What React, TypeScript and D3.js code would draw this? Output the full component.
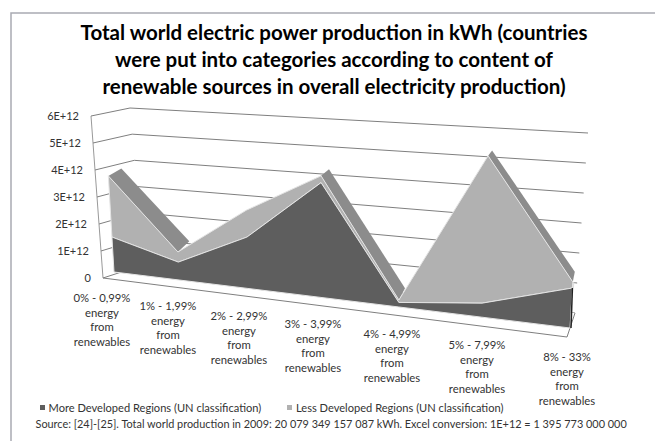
import React from "react";
import * as d3 from "d3";

const titleLines = [
  "Total world electric power production in kWh (countries",
  "were put into categories according to content of",
  "renewable sources in overall electricity production)",
];
const categories = ["0% - 0,99%", "1% - 1,99%", "2% - 2,99%", "3% - 3,99%", "4% - 4,99%", "5% - 7,99%", "8% - 33%"];
const categorySuffix = ["energy", "from", "renewables"];
const moreDeveloped = [1.28, 0.64, 1.79, 3.9, 0.15, 0.45, 1.25];
const lessDeveloped = [2.24, 0.36, 0.94, 0.23, 0.08, 4.74, 0.19];
const yTicks = [0, 1, 2, 3, 4, 5, 6];
const yTickLabels = ["0", "1E+12", "2E+12", "3E+12", "4E+12", "5E+12", "6E+12"];
const legendLabels = ["More Developed Regions (UN classification)", "Less Developed Regions (UN classification)"];
const sourceNote = "Source: [24]-[25]. Total world production in 2009: 20 079 349 157 087 kWh. Excel conversion: 1E+12 = 1 395 773 000 000";

const FONT = "Lato, Carlito, 'Open Sans', sans-serif";
const DARK = "#5e5e5e";
const LIGHT = "#b1b1b1";
const BAND = "#8c8c8c";
const EDGE = "#e4e4e4";
const GRID = "#7f7f7f";

// perspective along the category axis
const persp = (i: number) => 1 / (35.6 - i);
const xBase = d3.scaleLinear().domain([persp(0), persp(6)]).range([114, 570]);
const yBase = d3.scaleLinear().domain([114, 570]).range([272, 328]);
const unit = d3.scaleLinear().domain([persp(0), persp(6)]).range([27.3, 32]);
const spread = d3.scaleLinear().domain([114, 320]).range([-1.6, 0]);

const project = (i: number, v: number): [number, number] => {
  const x0 = xBase(persp(i));
  return [x0 + spread(x0) * v, yBase(x0) - unit(persp(i)) * v];
};
const backShift = (p: [number, number], v: number): [number, number] => [
  p[0] + 13 - ((p[0] - 108) * 11) / 465,
  p[1] - (12 - 1.3 * v),
];

// wall scales
const wallX = d3.scaleLinear().domain([0, 6]).range([103, 91]);
const wallY = d3.scaleLinear().domain([0, 6]).range([278, 116]);
const backLX = d3.scaleLinear().domain([0, 6]).range([143, 130]);
const backLY = d3.scaleLinear().domain([0, 6]).range([265, 108]);
const backRX = d3.scaleLinear().domain([0, 6]).range([575, 588]);
const backRY = d3.scaleLinear().domain([0, 6]).range([313, 133]);

const totals = moreDeveloped.map((d, i) => d + lessDeveloped[i]);
const idx = d3.range(categories.length);
const poly = d3.line<[number, number]>().x((d) => d[0]).y((d) => d[1]);

const darkFace = [...idx.map((i) => project(i, moreDeveloped[i])), ...idx.slice().reverse().map((i) => project(i, 0))];
const lightFace = [...idx.map((i) => project(i, totals[i])), ...idx.slice().reverse().map((i) => project(i, moreDeveloped[i]))];
const bands = idx.slice(0, -1).filter((i) => totals[i + 1] < totals[i]).map((i) => {
  const a = project(i, totals[i]);
  const b = project(i + 1, totals[i + 1]);
  return [a, b, backShift(b, totals[i + 1]), backShift(a, totals[i])] as [number, number][];
});

const labelX = [102, 168, 239, 313, 392, 477, 567];
const labelY = [298, 306, 316, 324, 334, 345, 357];

export default function App() {
  const last = idx.length - 1;
  const sideBottom = project(last, 0);
  const sideTop = project(last, moreDeveloped[last]);
  const sideLight = project(last, totals[last]);
  return (
    <svg width={655} height={441} viewBox="0 0 655 441" style={{ position: "absolute", left: 0, top: 0, background: "#fff" }}>
      <path d="M655,13 H11 V441" fill="none" stroke="#a9abb2" strokeWidth={1.5} />

      {titleLines.map((t, i) => (
        <text key={i} x={334} y={40 + i * 27} textAnchor="middle" fontFamily={FONT} fontWeight={700} fontSize={20.5} fill="#000">
          {t}
        </text>
      ))}

      {/* walls */}
      <line x1={wallX(0)} y1={wallY(0)} x2={wallX(6)} y2={wallY(6)} stroke="#999" />
      {yTicks.map((t) => (
        <path
          key={t}
          d={poly([[wallX(t), wallY(t)], [backLX(t), backLY(t)], [backRX(t), backRY(t)]])!}
          fill="none"
          stroke={GRID}
          strokeWidth={1}
        />
      ))}
      <path d={poly([[wallX(0), wallY(0)], [567, 337], [backRX(0), backRY(0)]])!} fill="#fff" stroke={GRID} />

      {/* series */}
      {bands.map((b, i) => (
        <path key={i} d={poly(b)! + "Z"} fill={BAND} stroke="none" />
      ))}
      <path d={poly(lightFace as [number, number][])! + "Z"} fill={LIGHT} stroke={EDGE} strokeWidth={1} />
      <path d={poly(darkFace as [number, number][])! + "Z"} fill={DARK} stroke={EDGE} strokeWidth={1} />
      <line x1={sideBottom[0] + 1} y1={sideBottom[1]} x2={sideTop[0]} y2={sideTop[1]} stroke="#222" strokeWidth={1.5} />
      <line x1={sideTop[0] + 1} y1={sideTop[1]} x2={sideLight[0] + 1} y2={sideLight[1]} stroke="#ddd" strokeWidth={1} />

      {/* axis labels */}
      {yTicks.map((t, i) => (
        <text key={t} x={wallX(t) - 12} y={wallY(t) + 4} textAnchor="end" fontFamily={FONT} fontSize={11} fill="#333">
          {yTickLabels[i]}
        </text>
      ))}

      {categories.map((c, i) => (
        <text key={c} textAnchor="middle" fontFamily={FONT} fontSize={11.3} fill="#333">
          {[c, ...categorySuffix].map((s, j) => (
            <tspan key={j} x={labelX[i]} y={labelY[i] + 4 + j * 14.6}>
              {s}
            </tspan>
          ))}
        </text>
      ))}

      {/* legend */}
      <rect x={40} y={405} width={5} height={5} fill={DARK} />
      <text x={48.5} y={412} fontFamily={FONT} fontSize={11.1} fill="#333">{legendLabels[0]}</text>
      <rect x={287} y={405} width={5} height={5} fill={LIGHT} />
      <text x={296} y={412} fontFamily={FONT} fontSize={11.1} fill="#333">{legendLabels[1]}</text>
      <text x={35.5} y={428} fontFamily={FONT} fontSize={10.9} fill="#333">{sourceNote}</text>
    </svg>
  );
}
